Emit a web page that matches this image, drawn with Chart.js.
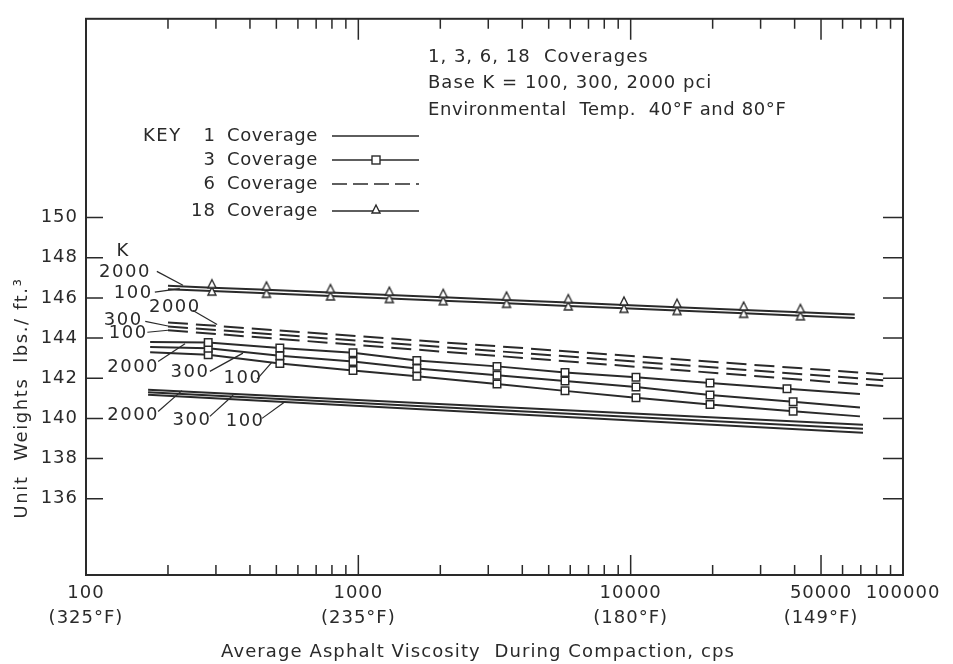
<!DOCTYPE html>
<html>
<head>
<meta charset="utf-8">
<title>Unit Weight vs Asphalt Viscosity</title>
<script src="https://cdn.jsdelivr.net/npm/chart.js@4/dist/chart.umd.min.js"></script>
<style>
  html, body { margin: 0; padding: 0; background: #fff; }
  canvas { display: block; }
</style>
</head>
<body>
<canvas id="chart" width="953" height="664"></canvas>
<script>
// ---- Axis ticks -------------------------------------------------------
const xTickValues = [100, 200, 300, 400, 500, 600, 700, 800, 900,
                     1000, 2000, 3000, 4000, 5000, 6000, 7000, 8000, 9000,
                     10000, 20000, 30000, 40000, 50000, 60000, 70000, 80000, 90000, 100000];
const xMajorTicks = [1000, 10000, 50000];
const xLabelValues = [100, 1000, 10000, 50000, 100000];
const xLabelText = ['100', '1000', '10000', '50000', '100000'];
const xLabelTemp = ['(325°F)', '(235°F)', '(180°F)', '(149°F)', ''];
const yTickValues = [136, 138, 140, 142, 144, 146, 148, 150];

// ---- 1 coverage (K = 2000, 300, 100 pci) ------------------------------
const cov1X = [169, 71300];
const cov1K2000 = [141.42, 139.68];
const cov1K300 = [141.30, 139.48];
const cov1K100 = [141.18, 139.28];

// ---- 3 coverage --------------------------------------------------------
const cov3X2000 = [172, 281, 515, 956, 1640, 3230, 5740, 10460, 19560, 37500, 69500];
const cov3X = [172, 281, 515, 956, 1640, 3230, 5740, 10460, 19560, 39500, 69500];
const cov3K2000 = [143.80, 143.78, 143.51, 143.27, 142.88, 142.59, 142.29, 142.05, 141.76, 141.47, 141.22];
const cov3K300 = [143.56, 143.49, 143.12, 142.83, 142.49, 142.15, 141.86, 141.56, 141.17, 140.83, 140.54];
const cov3K100 = [143.29, 143.17, 142.73, 142.39, 142.10, 141.71, 141.37, 141.03, 140.69, 140.35, 140.10];

// ---- 6 coverage --------------------------------------------------------
const cov6X = [200, 84600];
const cov6K2000 = [144.78, 142.20];
const cov6K300 = [144.58, 141.90];
const cov6K100 = [144.39, 141.61];

// ---- 18 coverage -------------------------------------------------------
const cov18X = [200, 290, 460, 790, 1300, 2050, 3500, 5900, 9450, 14800, 26000, 42000, 66500];
const cov18K2000 = [146.60, 146.51, 146.40, 146.27, 146.14, 146.03, 145.90, 145.77, 145.65, 145.54, 145.40, 145.28, 145.17];
const cov18K100 = [146.43, 146.34, 146.23, 146.10, 145.97, 145.86, 145.73, 145.60, 145.48, 145.37, 145.23, 145.11, 145.00];

// ---- K labels beside the curves: text spot and leader target, in (cps, lb/ft3)
const kLabels = [
  { text: 'K',    at: [137, 148.34] },
  { text: '2000', at: [139, 147.27], from: [182, 147.32], to: [227, 146.63] },
  { text: '100',  at: [149, 146.24], from: [179, 146.29], to: [221, 146.46] },
  { text: '2000', at: [212, 145.51], from: [247, 145.37], to: [303, 144.68] },
  { text: '300',  at: [137, 144.88], from: [165, 144.83], to: [200, 144.60] },
  { text: '100',  at: [143, 144.25], from: [168, 144.29], to: [200, 144.39] },
  { text: '2000', at: [149, 142.54], from: [184, 142.83], to: [231, 143.72] },
  { text: '300',  at: [241, 142.29], from: [285, 142.34], to: [377, 143.25] },
  { text: '100',  at: [377, 142.00], from: [425, 141.95], to: [482, 142.80] },
  { text: '2000', at: [149, 140.15], from: [184, 140.34], to: [225, 141.38] },
  { text: '300',  at: [245, 139.91], from: [285, 140.10], to: [347, 141.15] },
  { text: '100',  at: [384, 139.86], from: [443, 140.00], to: [538, 140.83] }
];

const INK = '#2a2a2a';
const FONT = '"DejaVu Sans", "Liberation Sans", sans-serif';

const pairs = (xs, ys) => xs.map((x, i) => ({ x, y: ys[i] }));
const innerOnly = r => c => (c.dataIndex === 0 || c.dataIndex === c.dataset.data.length - 1) ? 0 : r;

// small open triangle marker, shifted so paired curves show stacked triangles
function triangleMarker(shift) {
  const c = document.createElement('canvas');
  c.width = 12; c.height = 26;
  const g = c.getContext('2d');
  const cx = 6, cy = 13 + shift;
  g.beginPath();
  g.moveTo(cx, cy - 5);
  g.lineTo(cx + 4, cy + 3);
  g.lineTo(cx - 4, cy + 3);
  g.closePath();
  g.fillStyle = '#fff';
  g.fill();
  g.lineWidth = 1.4;
  g.strokeStyle = INK;
  g.stroke();
  return c;
}
const triUpper = triangleMarker(-3);
const triLower = triangleMarker(1);

const solid = (label, xs, ys) => ({
  label, data: pairs(xs, ys), borderColor: INK, borderWidth: 2, pointRadius: 0
});
const squares = (label, xs, ys) => ({
  label, data: pairs(xs, ys), borderColor: INK, borderWidth: 2,
  pointStyle: 'rect', pointRadius: innerOnly(5.3), pointBackgroundColor: '#fff',
  pointBorderColor: INK, pointBorderWidth: 1.5
});
const dashed = (label, xs, ys) => ({
  label, data: pairs(xs, ys), borderColor: INK, borderWidth: 2,
  borderDash: [20, 8], pointRadius: 0
});
const triangles = (label, xs, ys, marker) => ({
  label, data: pairs(xs, ys), borderColor: INK, borderWidth: 2,
  pointStyle: marker, pointRadius: innerOnly(4)
});

// frame, inward tick marks, key, notes and K labels
const decorations = {
  id: 'decorations',
  beforeDraw(chart) {
    const ctx = chart.ctx;
    ctx.save();
    ctx.fillStyle = '#fff';
    ctx.fillRect(0, 0, chart.width, chart.height);
    ctx.restore();
    ctx.letterSpacing = '1px';
  },
  afterDraw(chart) {
    const { ctx, chartArea: a, scales: { x, y } } = chart;
    ctx.save();
    ctx.letterSpacing = '0px';
    ctx.strokeStyle = INK;
    ctx.lineCap = 'butt';

    // frame
    ctx.lineWidth = 2;
    ctx.strokeRect(a.left, a.top, a.right - a.left, a.bottom - a.top);

    // inward ticks
    ctx.lineWidth = 1.5;
    ctx.beginPath();
    xTickValues.forEach(v => {
      if (v <= x.min || v >= x.max) return;
      const px = x.getPixelForValue(v);
      const major = xMajorTicks.includes(v);
      ctx.moveTo(px, a.bottom); ctx.lineTo(px, a.bottom - (major ? 20 : 10));
      ctx.moveTo(px, a.top);    ctx.lineTo(px, a.top + (major ? 21 : 10));
    });
    yTickValues.forEach(v => {
      const py = y.getPixelForValue(v);
      ctx.moveTo(a.left, py);  ctx.lineTo(a.left + 17, py);
      ctx.moveTo(a.right, py); ctx.lineTo(a.right - 20, py);
    });
    ctx.stroke();

    const text = (s, px, py, size, align, ls) => {
      ctx.font = size + 'px ' + FONT;
      ctx.textAlign = align;
      ctx.textBaseline = 'middle';
      ctx.letterSpacing = ls + 'px';
      ctx.fillStyle = INK;
      ctx.fillText(s, px, py);
    };

    // K labels with leaders
    ctx.lineWidth = 1.2;
    kLabels.forEach(k => {
      text(k.text, x.getPixelForValue(k.at[0]), y.getPixelForValue(k.at[1]), 18, 'center', 1.5);
      if (k.from) {
        ctx.beginPath();
        ctx.moveTo(x.getPixelForValue(k.from[0]), y.getPixelForValue(k.from[1]));
        ctx.lineTo(x.getPixelForValue(k.to[0]), y.getPixelForValue(k.to[1]));
        ctx.stroke();
      }
    });

    // notes
    text('1, 3, 6, 18  Coverages', 428, 57, 18, 'left', 1);
    text('Base K = 100, 300, 2000 pci', 428, 83, 18, 'left', 1);
    text('Environmental  Temp.  40°F and 80°F', 428, 110, 18, 'left', 0.6);

    // key
    text('KEY', 143, 136, 18, 'left', 1.5);
    const rows = [['1', 136], ['3', 160], ['6', 184], ['18', 211]];
    rows.forEach(([n, ry]) => {
      text(n, 216, ry, 18, 'right', 1);
      text('Coverage', 227, ry, 18, 'left', 0.6);
    });
    ctx.lineWidth = 1.6;
    ctx.beginPath();
    ctx.moveTo(332, 136); ctx.lineTo(419, 136);
    ctx.moveTo(332, 160); ctx.lineTo(419, 160);
    ctx.moveTo(332, 211); ctx.lineTo(419, 211);
    ctx.stroke();
    ctx.setLineDash([15, 6]);
    ctx.beginPath();
    ctx.moveTo(332, 184); ctx.lineTo(419, 184);
    ctx.stroke();
    ctx.setLineDash([]);
    ctx.fillStyle = '#fff';
    ctx.lineWidth = 1.4;
    ctx.fillRect(372, 156, 8, 8);
    ctx.strokeRect(372, 156, 8, 8);
    ctx.beginPath();
    ctx.moveTo(376, 205); ctx.lineTo(380, 213); ctx.lineTo(372, 213); ctx.closePath();
    ctx.fill(); ctx.stroke();

    // axis titles
    text('Average Asphalt Viscosity  During Compaction, cps', 478, 652, 18, 'center', 1.1);
    ctx.save();
    ctx.translate(22, 398);
    ctx.rotate(-Math.PI / 2);
    text('Unit  Weights  lbs./ ft.³', 0, 0, 18, 'center', 1.6);
    ctx.restore();

    ctx.restore();
  }
};

new Chart(document.getElementById('chart'), {
  type: 'line',
  data: {
    datasets: [
      solid('1 Coverage, K 2000', cov1X, cov1K2000),
      solid('1 Coverage, K 300', cov1X, cov1K300),
      solid('1 Coverage, K 100', cov1X, cov1K100),
      squares('3 Coverage, K 2000', cov3X2000, cov3K2000),
      squares('3 Coverage, K 300', cov3X, cov3K300),
      squares('3 Coverage, K 100', cov3X, cov3K100),
      dashed('6 Coverage, K 2000', cov6X, cov6K2000),
      dashed('6 Coverage, K 300', cov6X, cov6K300),
      dashed('6 Coverage, K 100', cov6X, cov6K100),
      triangles('18 Coverage, K 2000', cov18X, cov18K2000, triUpper),
      triangles('18 Coverage, K 100', cov18X, cov18K100, triLower)
    ]
  },
  options: {
    responsive: false,
    animation: false,
    devicePixelRatio: 1,
    layout: { padding: { top: 7, right: 50, bottom: 0, left: 0 } },
    plugins: { legend: { display: false }, tooltip: { enabled: false } },
    scales: {
      x: {
        type: 'logarithmic',
        min: 100,
        max: 100000,
        afterBuildTicks: s => { s.ticks = xTickValues.map(v => ({ value: v })); },
        afterFit: s => { s.height = 89; },
        grid: { display: false, drawTicks: false },
        border: { display: false },
        ticks: {
          autoSkip: false,
          maxRotation: 0,
          minRotation: 0,
          padding: 6,
          color: INK,
          font: { family: FONT, size: 18, lineHeight: 1.38 },
          callback: v => {
            const i = xLabelValues.indexOf(v);
            if (i < 0) return '';
            return xLabelTemp[i] ? [xLabelText[i], xLabelTemp[i]] : xLabelText[i];
          }
        }
      },
      y: {
        type: 'linear',
        min: 132.2,
        max: 159.9,
        afterBuildTicks: s => { s.ticks = yTickValues.map(v => ({ value: v })); },
        afterFit: s => { s.width = 86; },
        grid: { display: false, drawTicks: false },
        border: { display: false },
        ticks: {
          padding: 8,
          color: INK,
          font: { family: FONT, size: 18 },
          callback: v => String(v)
        }
      }
    }
  },
  plugins: [decorations]
});
</script>
</body>
</html>
